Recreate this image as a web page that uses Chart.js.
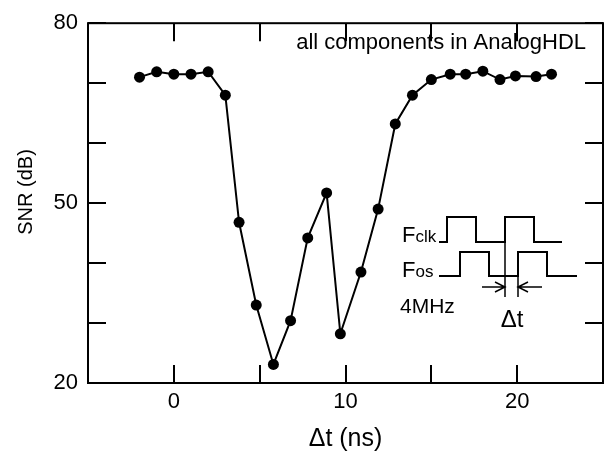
<!DOCTYPE html>
<html lang="en">
<head>
    <meta charset="UTF-8">
    <title>SNR vs Δt</title>
    <style>
        html, body { margin: 0; padding: 0; background: #fff; }
        canvas { display: block; }
    </style>
</head>
<body>
    <canvas id="snrChart" width="613" height="454"></canvas>

    <script src="https://cdn.jsdelivr.net/npm/chart.js"></script>
    <script>
        // Datos
        const deltaT = [-2, -1, 0, 1, 2, 3, 3.8, 4.8, 5.8, 6.8, 7.8, 8.9, 9.7, 10.9, 11.9, 12.9, 13.9, 15, 16.1, 17, 18, 19, 19.9, 21.1, 22];
        const snr = [71.0, 71.9, 71.5, 71.5, 71.9, 68.0, 46.8, 33.0, 23.1, 30.4, 44.2, 51.7, 28.2, 38.5, 49.0, 63.2, 68.0, 70.6, 71.5, 71.5, 72.0, 70.6, 71.2, 71.1, 71.5];
        const yLabels = [20, 50, 80];
        const xLabels = [0, 10, 20];

        const FONT = '"Liberation Sans", Arial, sans-serif';

        // Marco y marcas hacia dentro
        const framePlugin = {
            id: 'frame',
            afterDraw(chart) {
                const { ctx, chartArea: a, scales: { x, y } } = chart;
                const len = 18;
                ctx.save();
                ctx.strokeStyle = '#000';
                ctx.lineWidth = 2;
                ctx.strokeRect(a.left, a.top, a.right - a.left, a.bottom - a.top);
                ctx.beginPath();
                y.ticks.forEach(t => {
                    const py = Math.round(y.getPixelForValue(t.value));
                    ctx.moveTo(a.left, py); ctx.lineTo(a.left + len, py);
                    ctx.moveTo(a.right, py); ctx.lineTo(a.right - len, py);
                });
                x.ticks.forEach(t => {
                    const px = Math.round(x.getPixelForValue(t.value));
                    ctx.moveTo(px, a.bottom); ctx.lineTo(px, a.bottom - len);
                    ctx.moveTo(px, a.top); ctx.lineTo(px, a.top + len);
                });
                ctx.stroke();
                ctx.restore();
            }
        };

        // Texto y diagrama de relojes
        const insetPlugin = {
            id: 'inset',
            afterDraw(chart) {
                const ctx = chart.ctx;
                ctx.save();
                ctx.fillStyle = '#000';
                ctx.strokeStyle = '#000';
                ctx.textBaseline = 'alphabetic';

                ctx.font = '22px ' + FONT;
                ctx.textAlign = 'right';
                ctx.fillText('all components in AnalogHDL', 586, 49);

                // etiquetas
                ctx.textAlign = 'left';
                ctx.font = '22px ' + FONT;
                ctx.fillText('F', 402, 242);
                ctx.fillText('F', 402, 277);
                const fw = ctx.measureText('F').width;
                ctx.font = '17px ' + FONT;
                ctx.fillText('clk', 402 + fw, 242);
                ctx.fillText('os', 402 + fw, 277);
                ctx.font = '21px ' + FONT;
                ctx.fillText('4MHz', 400, 313);
                ctx.font = '24px ' + FONT;
                ctx.textAlign = 'center';
                ctx.fillText('\u0394t', 512, 327);

                // ondas
                ctx.lineWidth = 2;
                ctx.beginPath();
                ctx.moveTo(439, 242); ctx.lineTo(447, 242); ctx.lineTo(447, 217);
                ctx.lineTo(476, 217); ctx.lineTo(476, 242); ctx.lineTo(505, 242);
                ctx.lineTo(505, 217); ctx.lineTo(534, 217); ctx.lineTo(534, 242);
                ctx.lineTo(562, 242);
                ctx.moveTo(439, 276); ctx.lineTo(460, 276); ctx.lineTo(460, 252);
                ctx.lineTo(489, 252); ctx.lineTo(489, 276); ctx.lineTo(518, 276);
                ctx.lineTo(518, 252); ctx.lineTo(547, 252); ctx.lineTo(547, 276);
                ctx.lineTo(577, 276);
                ctx.stroke();
                ctx.lineWidth = 1.5;
                ctx.beginPath();
                ctx.moveTo(505, 242); ctx.lineTo(505, 297);
                ctx.moveTo(518, 276); ctx.lineTo(518, 297);
                ctx.stroke();

                // flechas
                ctx.lineWidth = 1.5;
                ctx.beginPath();
                ctx.moveTo(482, 287); ctx.lineTo(505, 287);
                ctx.moveTo(495, 282); ctx.lineTo(505, 287); ctx.lineTo(495, 292);
                ctx.moveTo(542, 287); ctx.lineTo(518, 287);
                ctx.moveTo(528, 282); ctx.lineTo(518, 287); ctx.lineTo(528, 292);
                ctx.stroke();
                ctx.restore();
            }
        };

        const ctx = document.getElementById('snrChart').getContext('2d');
        const chart = new Chart(ctx, {
            type: 'line',
            data: {
                datasets: [{
                    data: deltaT.map((t, i) => ({ x: t, y: snr[i] })),
                    borderColor: '#000',
                    borderWidth: 2,
                    pointRadius: 5.5,
                    pointBackgroundColor: '#000',
                    pointBorderColor: '#000',
                    pointBorderWidth: 0,
                    tension: 0,
                    fill: false
                }]
            },
            options: {
                responsive: false,
                animation: false,
                layout: { padding: { top: 13, right: 10, left: 0, bottom: 0 } },
                plugins: {
                    legend: { display: false },
                    tooltip: { enabled: false }
                },
                scales: {
                    x: {
                        type: 'linear',
                        min: -5,
                        max: 25,
                        grid: { display: false, drawTicks: false },
                        border: { display: false },
                        afterFit: s => { s.height = 71; },
                        ticks: {
                            stepSize: 5,
                            autoSkip: false,
                            maxRotation: 0,
                            padding: 6,
                            color: '#000',
                            font: { family: FONT, size: 22 },
                            callback: v => xLabels.includes(v) ? String(v) : ''
                        },
                        title: {
                            display: true,
                            text: '\u0394t (ns)',
                            color: '#000',
                            font: { family: FONT, size: 25 },
                            padding: { top: 0, bottom: 0 }
                        }
                    },
                    y: {
                        min: 20,
                        max: 80,
                        grid: { display: false, drawTicks: false },
                        border: { display: false },
                        afterFit: s => { s.width = 88; },
                        ticks: {
                            stepSize: 10,
                            autoSkip: false,
                            padding: 10,
                            color: '#000',
                            font: { family: FONT, size: 22 },
                            callback: v => yLabels.includes(v) ? String(v) : ''
                        },
                        title: {
                            display: true,
                            // espacios delante para subir el título como en el original
                            text: '\u00A0\u00A0\u00A0\u00A0SNR (dB)',
                            color: '#000',
                            font: { family: FONT, size: 20 },
                            padding: { top: 14, bottom: 0 }
                        }
                    }
                }
            },
            plugins: [framePlugin, insetPlugin]
        });
    </script>
</body>
</html>
